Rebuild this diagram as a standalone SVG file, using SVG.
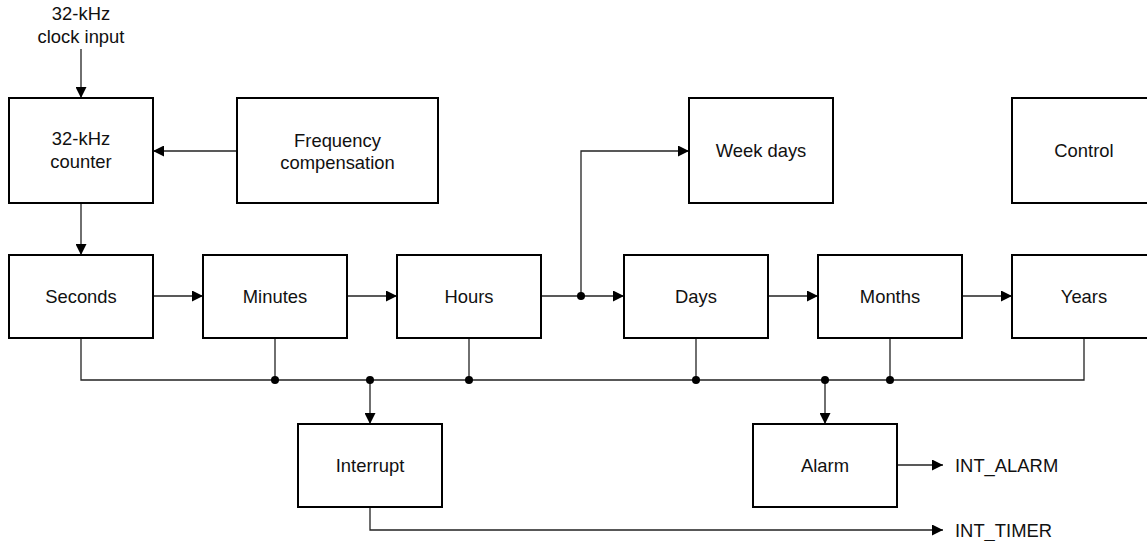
<svg xmlns="http://www.w3.org/2000/svg" width="1147" height="541" viewBox="0 0 1147 541">
<style>
.box{fill:#fff;stroke:#000;stroke-width:2}
.t{font-family:"Liberation Sans",Arial,sans-serif;font-size:18.4px;fill:#111;text-anchor:middle}
.ts{font-family:"Liberation Sans",Arial,sans-serif;font-size:18.4px;fill:#111}
.c{fill:none;stroke:#222;stroke-width:1.3}
.a{marker-end:url(#ah)}
.dot{fill:#000}
</style>
<defs>
<marker id="ah" markerWidth="11" markerHeight="11" refX="11" refY="5.5" orient="auto" markerUnits="userSpaceOnUse">
<path d="M0,0 L11,5.5 L0,11 Z" fill="#000"/>
</marker>
</defs>
<rect width="1147" height="541" fill="#fff"/>
<g id="connectors">
<path class="c a" d="M81,49 V98"/>
<path class="c a" d="M237,151 H153"/>
<path class="c a" d="M81,203 V255"/>
<path class="c a" d="M153,296 H203"/>
<path class="c a" d="M347,296 H397"/>
<path class="c a" d="M541,296 H624"/>
<path class="c a" d="M581,296 V151 H689"/>
<path class="c a" d="M768,296 H818"/>
<path class="c a" d="M962,296 H1012"/>
<path class="c" d="M81,338 V380 H1084 V338"/>
<path class="c" d="M275,338 V380"/>
<path class="c" d="M469,338 V380"/>
<path class="c" d="M696,338 V380"/>
<path class="c" d="M890,338 V380"/>
<path class="c a" d="M370,380 V424"/>
<path class="c a" d="M825,380 V424"/>
<path class="c a" d="M897,465 H943"/>
<path class="c a" d="M370,507 V530 H943"/>
<circle class="dot" cx="581" cy="296" r="4"/>
<circle class="dot" cx="275" cy="380" r="4"/>
<circle class="dot" cx="370" cy="380" r="4"/>
<circle class="dot" cx="469" cy="380" r="4"/>
<circle class="dot" cx="696" cy="380" r="4"/>
<circle class="dot" cx="825" cy="380" r="4"/>
<circle class="dot" cx="890" cy="380" r="4"/>
</g>
<g id="clock-input">
<text class="t" x="81" y="19.5">32-kHz</text>
<text class="t" x="81" y="42.5">clock input</text>
</g>
<g id="counter">
<rect class="box" x="9" y="98" width="144" height="105"/>
<text class="t" x="81" y="145">32-kHz</text>
<text class="t" x="81" y="167.5">counter</text>
</g>
<g id="freq">
<rect class="box" x="237" y="98" width="201" height="105"/>
<text class="t" x="337.5" y="146.5">Frequency</text>
<text class="t" x="337.5" y="169">compensation</text>
</g>
<g id="weekdays">
<rect class="box" x="689" y="98" width="144" height="105"/>
<text class="t" x="761" y="157">Week days</text>
</g>
<g id="control">
<rect class="box" x="1012" y="98" width="144" height="105"/>
<text class="t" x="1084" y="157">Control</text>
</g>
<g id="seconds">
<rect class="box" x="9" y="255" width="144" height="83"/>
<text class="t" x="81" y="302.8">Seconds</text>
</g>
<g id="minutes">
<rect class="box" x="203" y="255" width="144" height="83"/>
<text class="t" x="275" y="302.8">Minutes</text>
</g>
<g id="hours">
<rect class="box" x="397" y="255" width="144" height="83"/>
<text class="t" x="469" y="302.8">Hours</text>
</g>
<g id="days">
<rect class="box" x="624" y="255" width="144" height="83"/>
<text class="t" x="696" y="302.8">Days</text>
</g>
<g id="months">
<rect class="box" x="818" y="255" width="144" height="83"/>
<text class="t" x="890" y="302.8">Months</text>
</g>
<g id="years">
<rect class="box" x="1012" y="255" width="144" height="83"/>
<text class="t" x="1084" y="302.8">Years</text>
</g>
<g id="interrupt">
<rect class="box" x="298" y="424" width="144" height="83"/>
<text class="t" x="370" y="471.5">Interrupt</text>
</g>
<g id="alarm">
<rect class="box" x="753" y="424" width="144" height="83"/>
<text class="t" x="825" y="471.5">Alarm</text>
</g>
<g id="outputs">
<text class="ts" x="955" y="471.5">INT_ALARM</text>
<text class="ts" x="955" y="536.5">INT_TIMER</text>
</g>
</svg>
